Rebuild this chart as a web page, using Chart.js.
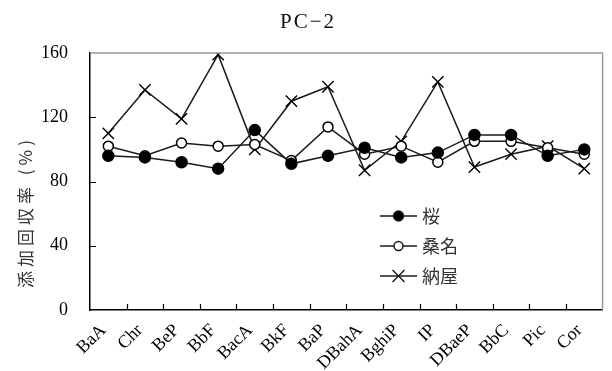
<!DOCTYPE html>
<html>
<head>
<meta charset="utf-8">
<script src="https://cdn.jsdelivr.net/npm/chart.js@4.4.0/dist/chart.umd.min.js"></script>
<style>
  body { margin: 0; background: #fff; }
  #wrap { width: 612px; height: 371px; }
</style>
</head>
<body>
<div id="wrap"><canvas id="myChart"></canvas></div>
<script>
// compounds on the x axis
const compounds = ["BaA", "Chr", "BeP", "BbF", "BacA", "BkF", "BaP",
                   "DBahA", "BghiP", "IP", "DBaeP", "BbC", "Pic", "Cor"];

// recovery (%) per site
const sakura = [96, 95, 92, 88, 112, 91, 96, 101, 95, 98, 109, 109, 96, 100];
const kuwana = [102, 96, 104, 102, 103, 93, 114, 97, 102, 92, 105, 105, 101, 97];
const naya   = [110, 137, 119, 159, 100, 130, 139, 87, 105, 142, 89, 97, 102, 88];

const seriesNames = ["桜", "桑名", "納屋"];
const yTicks = [0, 40, 80, 120, 160];

const titleText = "PC−2";
const yTitleText = "添加回収率 (%)";

const serif = "'Liberation Serif', 'Times New Roman', serif";
const cjk = "'Noto Sans CJK JP', 'Noto Sans', sans-serif";

// draws title, y title, inward tick marks, top/right frame and the inside legend
const decorPlugin = {
    id: 'decor',
    afterDraw(chart) {
        const ctx = chart.ctx;
        const area = chart.chartArea;
        const xs = chart.scales.x;
        const ys = chart.scales.y;

        ctx.save();
        // gray top and right frame
        ctx.strokeStyle = '#999';
        ctx.lineWidth = 1.5;
        ctx.beginPath();
        ctx.moveTo(area.left, area.top);
        ctx.lineTo(area.right, area.top);
        ctx.lineTo(area.right, area.bottom);
        ctx.stroke();

        // inward tick marks
        ctx.strokeStyle = '#000';
        ctx.lineWidth = 1.2;
        ctx.beginPath();
        const half = (xs.getPixelForValue(1) - xs.getPixelForValue(0)) / 2;
        for (let i = 1; i < compounds.length; i++) {
            const px = Math.round(xs.getPixelForValue(i) - half) + 0.5;
            ctx.moveTo(px, area.bottom);
            ctx.lineTo(px, area.bottom - 6);
        }
        yTicks.slice(1, -1).forEach(function (v) {
            const py = Math.round(ys.getPixelForValue(v)) + 0.5;
            ctx.moveTo(area.left, py);
            ctx.lineTo(area.left + 6, py);
        });
        ctx.stroke();

        // title
        ctx.fillStyle = '#111';
        ctx.font = "21px " + serif;
        ctx.textAlign = 'center';
        ctx.textBaseline = 'middle';
        ctx.letterSpacing = '2px';
        ctx.fillText(titleText, 308, 22);
        ctx.letterSpacing = '0px';

        // y axis title
        ctx.save();
        ctx.translate(26, 212);
        ctx.rotate(-Math.PI / 2);
        ctx.fillStyle = '#333';
        ctx.font = "17px " + cjk;
        ctx.letterSpacing = '4px';
        ctx.fillText(yTitleText, 0, 0);
        ctx.restore();

        // legend
        const lx = 380, lw = 37, tx = 422;
        const rows = [216, 246, 276];
        chart.data.datasets.forEach(function (ds, i) {
            const y = rows[i];
            ctx.strokeStyle = ds.borderColor;
            ctx.lineWidth = ds.borderWidth;
            ctx.beginPath();
            ctx.moveTo(lx, y);
            ctx.lineTo(lx + lw, y);
            ctx.stroke();
            const cx = lx + lw / 2;
            ctx.lineWidth = ds.pointBorderWidth;
            if (ds.pointStyle === 'crossRot') {
                const r = ds.pointRadius * 0.75;
                ctx.beginPath();
                ctx.moveTo(cx - r, y - r); ctx.lineTo(cx + r, y + r);
                ctx.moveTo(cx - r, y + r); ctx.lineTo(cx + r, y - r);
                ctx.stroke();
            } else {
                ctx.beginPath();
                ctx.arc(cx, y, ds.pointRadius - 0.5, 0, Math.PI * 2);
                ctx.fillStyle = ds.pointBackgroundColor;
                ctx.fill();
                ctx.stroke();
            }
            ctx.fillStyle = '#333';
            ctx.font = "18px " + cjk;
            ctx.textAlign = 'left';
            ctx.textBaseline = 'middle';
            ctx.fillText(ds.label, tx, y);
        });
        ctx.restore();
    }
};

const ctx = document.getElementById('myChart').getContext('2d');
const chart = new Chart(ctx, {
    type: 'line',
    data: {
        labels: compounds,
        datasets: [{
            label: seriesNames[0],
            data: sakura,
            borderColor: '#1a1a1a',
            borderWidth: 1.5,
            pointStyle: 'circle',
            pointRadius: 5.5,
            pointBackgroundColor: '#000',
            pointBorderColor: '#000',
            pointBorderWidth: 1.5
        }, {
            label: seriesNames[1],
            data: kuwana,
            borderColor: '#1a1a1a',
            borderWidth: 1.5,
            pointStyle: 'circle',
            pointRadius: 5,
            pointBackgroundColor: '#fff',
            pointBorderColor: '#000',
            pointBorderWidth: 1.5
        }, {
            label: seriesNames[2],
            data: naya,
            borderColor: '#1a1a1a',
            borderWidth: 1.5,
            pointStyle: 'crossRot',
            pointRadius: 8,
            pointBorderColor: '#000',
            pointBorderWidth: 1.4
        }]
    },
    options: {
        responsive: true,
        maintainAspectRatio: false,
        animation: false,
        layout: { padding: { top: 53, right: 3, left: 0, bottom: 0 } },
        plugins: {
            legend: { display: false },
            tooltip: { enabled: false },
            title: { display: false }
        },
        scales: {
            x: {
                offset: true,
                grid: { display: false, drawTicks: false },
                border: { color: '#000', width: 1.5 },
                ticks: {
                    color: '#000',
                    font: { family: serif, size: 18 },
                    minRotation: 45,
                    maxRotation: 45,
                    padding: 10,
                    labelOffset: -5,
                    autoSkip: false
                },
                afterFit(scale) { scale.height = 61; }
            },
            y: {
                min: 0,
                max: 160,
                afterBuildTicks(scale) {
                    scale.ticks = yTicks.map(function (v) { return { value: v }; });
                },
                grid: { display: false, drawTicks: false },
                border: { color: '#000', width: 1.5 },
                ticks: {
                    color: '#000',
                    font: { family: serif, size: 18 },
                    padding: 22
                },
                afterFit(scale) { scale.width = 90; }
            }
        }
    },
    plugins: [decorPlugin]
});
</script>
</body>
</html>
